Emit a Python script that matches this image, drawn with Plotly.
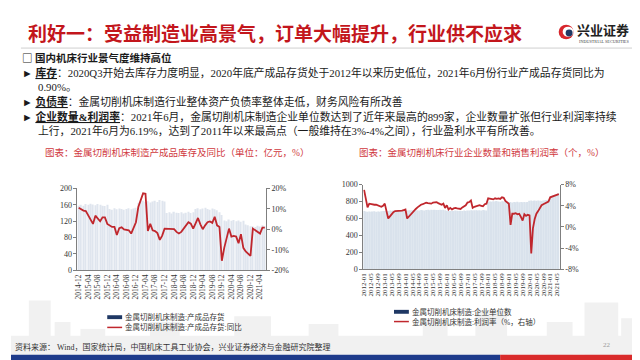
import plotly.graph_objects as go
import pandas as pd

# ---------------- data ----------------
left_months = pd.date_range("2014-12-01", "2021-06-01", freq="MS").strftime("%Y-%m").tolist()
left_ticks = ["2014-12", "2015-04", "2015-08", "2015-12", "2016-04", "2016-08", "2016-12",
              "2017-04", "2017-08", "2017-12", "2018-04", "2018-08", "2018-12", "2019-04",
              "2019-08", "2019-12", "2020-04", "2020-08", "2020-12", "2021-04"]
# 金属切削机床制造:产成品存货 (亿元)
left_inventory = [158,
                  160, 158, 162, 160, 163, 161, 159, 162, 160, 158, 157, 160,
                  150, 148, 152, 149, 151, 150, 148, 150, 152, 149, 151, 153,
                  165, 168, 170, 167, 169, 166, 168, 170, 167, 172, 170, 168,
                  140, 142, 139, 143, 141, 140, 142, 139, 141, 143, 140, 142,
                  150, 152, 149, 151, 153, 150, 148, 151, 149, 147, 142, 135,
                  122, 120, 124, 121, 123, 120, 122, 119, 121, 112, 110, 108,
                  108, 106, 109, 107, 110, 108]
# 金属切削机床制造:产成品存货:同比 (%)
left_yoy = [10.6, 9.8, 9.2, 9.0, 7.0, 5.0, 2.7, 6.7, 5.2, 4.0,
            5.9, 5.9, 2.7, 1.8, 1.2, 1.2, -2.7, 0.6, 1.0, 0.0,
            -0.2, -0.4, -2.0, 0.5, 3.5, 11.0, 14.0, 17.6, 17.4, -0.8,
            2.7, -0.4, -0.8, -1.8, -5.1, -3.0, 0.4, 0.4, 0.3, 0.3,
            0.1, -1.2, -2.0, -1.2, 0.2, 2.0, 3.5, 2.8, 0.4, 3.0,
            5.6, 2.5, 0.1, 2.0, 3.5, 3.9, 3.2, 6.2, 2.0, 1.2,
            -15.3, -9.0, -3.5, 0.4, -3.5, -3.2, -3.5, -6.7, -2.3, -9.0,
            -10.8, -12.0, -12.9, 0.4, -0.5, -1.2, -2.0, 0.9, 0.9]

right_months = pd.date_range("2012-01-01", "2021-06-01", freq="MS").strftime("%Y-%m").tolist()
right_ticks = ["2012-01", "2012-05", "2012-09", "2013-01", "2013-05", "2013-09", "2014-01",
               "2014-05", "2014-09", "2015-01", "2015-05", "2015-09", "2016-01", "2016-05",
               "2016-09", "2017-01", "2017-05", "2017-09", "2018-01", "2018-05", "2018-09",
               "2019-01", "2019-05", "2019-09", "2020-01", "2020-05", "2020-09", "2021-01",
               "2021-05"]
# 金属切削机床制造:企业单位数 (个)
right_count = [688, 682, 680, 684, 679, 683, 686, 681, 684, 680, 685, 688,
               690, 692, 688, 693, 690, 694, 691, 689, 693, 695, 690, 692,
               695, 693, 697, 694, 698, 696, 693, 697, 695, 699, 696, 694,
               700, 702, 698, 703, 700, 704, 701, 699, 703, 700, 702, 698,
               690, 693, 689, 692, 690, 694, 691, 688, 692, 690, 693, 689,
               695, 693, 697, 694, 696, 698, 693, 697, 695, 699, 696, 694,
               798, 802, 799, 803, 800, 805, 801, 798, 803, 800, 804, 800,
               792, 795, 790, 796, 793, 797, 792, 795, 791, 796, 793, 795,
               808, 811, 806, 812, 809, 813, 810, 807, 812, 815, 818, 822,
               850, 862, 870, 880, 890, 899]
# 金属切削机床制造:利润率 (%)
right_margin = [7.0, 5.5, 3.7, 4.4, 4.3, 4.3, 4.2, 4.2, 4.1, 3.9, 3.8, 4.0,
                4.4, 3.0, 1.6, 2.0, 2.5, 2.8, 3.0, 3.0, 3.1, 3.1, 3.1, 3.2,
                3.3, 1.6, 2.0, 2.3, 2.6, 3.0, 3.4, 3.7, 4.0, 4.2, 4.3, 4.5,
                4.6, 4.5, 4.5, 4.4, 4.6, 4.7, 4.7, 4.5, 4.3, 4.2, 4.4, 3.6,
                4.1, 3.3, 3.6, 3.3, 3.5, 3.6, 3.5, 3.4, 3.4, 3.7, 3.9, 4.1,
                4.6, 4.7, 5.0, 3.6, 3.8, 3.9, 4.0, 4.1, 4.0, 3.9, 4.3, 4.4,
                5.4, 5.3, 5.3, 5.2, 5.4, 5.3, 5.4, 5.3, 5.6, 5.5, 4.9, 4.6,
                4.4, 0.4, 2.5, 2.5, 2.6, 2.4, 2.5, 1.9, 1.2, 2.4, 2.1, 2.3,
                2.2, -5.0, -0.2, 1.5, 2.5, 3.0, 3.6, 4.1, 4.3, 4.5, 4.7, 4.8,
                5.6, 5.7, 5.8, 5.9, 6.1, 6.19]

left_y_ticks = [0, 40, 80, 120, 160, 200]
left_y2_ticks = [-20, -10, 0, 10, 20]
right_y_ticks = [0, 200, 400, 600, 800, 1000]
right_y2_ticks = [-8, -4, 0, 4, 8]

# ---------------- style helpers ----------------
W, H = 640, 360
def px(x):
    return x / W
def py(y):
    return 1 - y / H

SERIF = "Liberation Serif, Noto Sans CJK SC, DejaVu Sans"
CJK = "Noto Sans CJK SC, DejaVu Sans"
RED = "#c0272d"
NAVY = "#1f3864"
AXC = "#7f7f7f"

fig = go.Figure()
fig.add_trace(go.Bar(x=left_months, y=left_inventory, xaxis="x", yaxis="y",
                     marker=dict(color="#dfe5ee", line_width=0), width=0.55,
                     showlegend=False))
fig.add_trace(go.Scatter(x=left_months, y=left_yoy, xaxis="x", yaxis="y2", mode="lines",
                         line=dict(color=RED, width=1.8), showlegend=False))
fig.add_trace(go.Bar(x=right_months, y=right_count, xaxis="x2", yaxis="y3",
                     marker=dict(color="#d9e2ec", line_width=0), width=0.72,
                     showlegend=False))
fig.add_trace(go.Scatter(x=right_months, y=right_margin, xaxis="x2", yaxis="y4", mode="lines",
                         line=dict(color=RED, width=1.8), showlegend=False))

tickfont = dict(family=SERIF, size=8, color="#333333")
xtickfont = dict(family=SERIF, size=7.5, color="#333333")
xtickfont2 = dict(family=SERIF, size=7, color="#333333")
common = dict(showgrid=False, zeroline=False, showline=True, linecolor=AXC, linewidth=1)

def pct(v):
    return [f"{t}%" for t in v]

layout = dict(
    width=W, height=H, autosize=False,
    margin=dict(l=0, r=0, t=0, b=0),
    paper_bgcolor="white", plot_bgcolor="rgba(0,0,0,0)",
    showlegend=False, bargap=0.4,
    xaxis=dict(common, domain=[px(67), px(257)], anchor="y", type="category",
               range=[-0.5, len(left_months) - 0.5], tickmode="array",
               tickvals=left_ticks, ticktext=left_ticks, tickangle=-90,
               ticks="", tickfont=xtickfont),
    yaxis=dict(common, domain=[py(265), py(181)], anchor="x", range=[0, 200],
               tickmode="array", tickvals=left_y_ticks, ticks="outside", ticklen=3,
               tickcolor=AXC, tickfont=tickfont),
    yaxis2=dict(common, overlaying="y", side="right", anchor="x", range=[-20, 20],
                tickmode="array", tickvals=left_y2_ticks, ticktext=pct(left_y2_ticks),
                ticks="outside", ticklen=3, tickcolor=AXC, tickfont=tickfont),
    xaxis2=dict(common, domain=[px(355), px(553)], anchor="y3", type="category",
                range=[-0.5, len(right_months) - 0.5], tickmode="array",
                tickvals=right_ticks, ticktext=right_ticks, tickangle=-90,
                ticks="", tickfont=xtickfont2),
    yaxis3=dict(common, domain=[py(264), py(177)], anchor="x2", range=[0, 1000],
                tickmode="array", tickvals=right_y_ticks, ticks="outside", ticklen=3,
                tickcolor=AXC, tickfont=tickfont),
    yaxis4=dict(common, overlaying="y3", side="right", anchor="x2", range=[-8, 8],
                tickmode="array", tickvals=right_y2_ticks, ticktext=pct(right_y2_ticks),
                ticks="outside", ticklen=3, tickcolor=AXC, tickfont=tickfont),
)
fig.update_layout(**layout)

shapes = []
def rect(x0, y0, x1, y1, color, layer="above"):
    shapes.append(dict(type="rect", xref="paper", yref="paper", x0=px(x0), x1=px(x1),
                       y0=py(y1), y1=py(y0), fillcolor=color, line_width=0, layer=layer))
def line(x0, y0, x1, y1, color, width):
    shapes.append(dict(type="line", xref="paper", yref="paper", x0=px(x0), x1=px(x1),
                       y0=py(y0), y1=py(y1), line=dict(color=color, width=width)))
def circle(x0, y0, x1, y1, color):
    shapes.append(dict(type="circle", xref="paper", yref="paper", x0=px(x0), x1=px(x1),
                       y0=py(y1), y1=py(y0), fillcolor=color, line_width=0))

# faint skyline watermark
sky = "#f1f1f1"
rect(0, 332, 640, 351.5, sky, "below")
for (a, b, top) in [(18, 40, 296), (44, 60, 318), (70, 95, 325), (140, 170, 318),
                    (225, 262, 312), (300, 330, 320), (415, 440, 316), (468, 500, 306),
                    (540, 566, 318), (578, 612, 298), (615, 640, 314)]:
    rect(a, top, b, 351.5, sky, "below")

# title separator
line(10, 37, 632, 37, "#cfcfcf", 1)
# logo
circle(552, 13, 567, 28, "#d7262c")
circle(556, 15, 567, 25.5, "white")
circle(559, 18, 566, 25, NAVY)
# legends
rect(97, 311, 112, 315, NAVY)
line(97, 323.5, 112, 323.5, RED, 1.5)
rect(386, 305.5, 401, 309.5, NAVY)
line(386, 317.5, 401, 317.5, RED, 1.5)
# footer bands
rect(0, 351.5, 493, 360, "#1e3b8b")
rect(493, 351.5, 640, 360, "#d92b2b")
fig.update_layout(shapes=shapes)

ann = []
def text(x, y, s, size, color="#1a1a1a", family=SERIF, anchor="left"):
    ann.append(dict(x=px(x), y=py(y), xref="paper", yref="paper", text=s, showarrow=False,
                    xanchor=anchor, yanchor="middle", align="left", borderpad=0,
                    font=dict(family=family, size=size, color=color)))

text(16, 21, "<b>利好一：受益制造业高景气，订单大幅提升，行业供不应求</b>", 19, "#c3161c", CJK)
text(569, 18, "<b>兴业证券</b>", 13, "#222222", CJK)
text(571, 30.5, "INDUSTRIAL SECURITIES", 4.2, "#444444", SERIF)

BODY = 10.8
BUL = "► "
text(10, 47, "<b>□ 国内机床行业景气度维持高位</b>", 10.5, "#1a1a1a", CJK)
text(10, 62, BUL + "<b><u>库存</u></b>：2020Q3开始去库存力度明显，2020年底产成品存货处于2012年以来历史低位，2021年6月份行业产成品存货同比为", BODY)
text(26, 77, "0.90%。", BODY)
text(10, 92, BUL + "<b><u>负债率</u></b>：金属切削机床制造行业整体资产负债率整体走低，财务风险有所改善", BODY)
text(10, 107, BUL + "<b><u>企业数量&amp;利润率</u></b>：2021年6月，金属切削机床制造企业单位数达到了近年来最高的899家，企业数量扩张但行业利润率持续", BODY)
text(26, 122, "上行，2021年6月为6.19%，达到了2011年以来最高点（一般维持在3%-4%之间），行业盈利水平有所改善。", BODY)

CAP = "#d0393e"
text(33, 144, "图表：金属切削机床制造产成品库存及同比（单位：亿元，%）", 9.5, CAP)
text(350, 144, "图表：金属切削机床行业企业数量和销售利润率（个，%）", 9.5, CAP)

text(114, 313, "金属切削机床制造:产成品存货", 7.5, "#333333")
text(114, 323.5, "金属切削机床制造:产成品存货:同比", 7.5, "#333333")
text(403, 307.5, "金属切削机床制造:企业单位数", 7.5, "#333333")
text(403, 317.5, "金属切削机床制造:利润率（%，右轴）", 7.5, "#333333")

text(3, 344, "资料来源： Wind，国家统计局，中国机床工具工业协会，兴业证券经济与金融研究院整理", 8, "#333333")
text(596, 342, "22", 7, "#9a9a9a")
fig.update_layout(annotations=ann)

fig.write_html("out.html")
